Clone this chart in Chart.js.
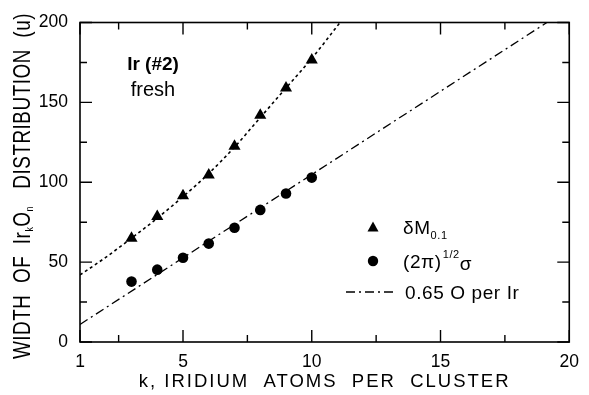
<!DOCTYPE html>
<html>
<head>
<meta charset="utf-8">
<script src="https://cdn.jsdelivr.net/npm/chart.js@4"></script>
<style>
html,body{margin:0;padding:0;background:#fff;}
#wrap{width:589px;height:395px;position:relative;}
</style>
</head>
<body>
<div id="wrap"><canvas id="c" width="589" height="395"></canvas></div>
<script>
// ---- data ----
const kValues = [3, 4, 5, 6, 7, 8, 9, 10];
const deltaM = [65, 78.5, 91.5, 104.5, 122.5, 142, 159, 176.5];
const sigmaWidth = [37.8, 45.3, 52.7, 61.6, 71.5, 82.7, 93, 102.9];
const fitK = [1, 2, 3, 4, 5, 6, 7, 8, 9, 10, 11.1];
const fitDeltaM = [42, 53, 65, 77.5, 91, 105.5, 122, 140.5, 159, 177.5, 200];
const lineK = [1, 19.13];
const lineO = [11, 200];
const xTicks = [1, 5, 10, 15, 20];
const yTicks = [0, 50, 100, 150, 200];
const xMinor = [2.5, 7.5, 12.5, 17.5];
const yMinor = [25, 75, 125, 175];

const pts = (xs, ys) => xs.map((x, i) => ({x: x, y: ys[i]}));
const FONT = '"Liberation Sans", Arial, sans-serif';

const framePlugin = {
  id: 'frame',
  afterDraw(chart) {
    const ctx = chart.ctx;
    const a = chart.chartArea;
    const xs = chart.scales.x, ys = chart.scales.y;
    ctx.save();
    ctx.strokeStyle = '#000';
    ctx.lineWidth = 1.6;
    ctx.strokeRect(a.left, a.top, a.right - a.left, a.bottom - a.top);
    ctx.lineWidth = 1.4;
    ctx.beginPath();
    const tickX = (v, len) => {
      const p = xs.getPixelForValue(v);
      ctx.moveTo(p, a.bottom); ctx.lineTo(p, a.bottom - len);
      ctx.moveTo(p, a.top); ctx.lineTo(p, a.top + len);
    };
    const tickY = (v, len) => {
      const p = ys.getPixelForValue(v);
      ctx.moveTo(a.left, p); ctx.lineTo(a.left + len, p);
      ctx.moveTo(a.right, p); ctx.lineTo(a.right - len, p);
    };
    xTicks.forEach(v => tickX(v, 12));
    xMinor.forEach(v => tickX(v, 7));
    yTicks.forEach(v => tickY(v, 12));
    yMinor.forEach(v => tickY(v, 7));
    ctx.stroke();

    ctx.fillStyle = '#000';
    // x title
    ctx.font = '18.5px ' + FONT;
    ctx.letterSpacing = '2px';
    ctx.textBaseline = 'alphabetic';
    ctx.textAlign = 'center';
    ctx.fillText('k, IRIDIUM  ATOMS  PER  CLUSTER', (a.left + a.right) / 2, 387);

    // y title (rotated, with subscripts, tall glyphs)
    const parts = [
      {t: 'WIDTH  OF  Ir', f: '18px ' + FONT, dy: 0},
      {t: 'k', f: '8.5px ' + FONT, dy: 3},
      {t: 'O', f: '18px ' + FONT, dy: 0},
      {t: 'n', f: '8.5px ' + FONT, dy: 3},
      {t: '   DISTRIBUTION  (u)', f: '18px ' + FONT, dy: 0}
    ];
    ctx.letterSpacing = '0.5px';
    let total = 0;
    parts.forEach(p => { ctx.font = p.f; p.w = ctx.measureText(p.t).width; total += p.w; });
    const targetLen = 346;
    const sx = targetLen / total, sy = 1.3;
    ctx.save();
    ctx.translate(29.5, 186);
    ctx.rotate(-Math.PI / 2);
    ctx.scale(sx, sy);
    ctx.textAlign = 'left';
    let cx = -total / 2;
    parts.forEach(p => { ctx.font = p.f; ctx.fillText(p.t, cx, p.dy); cx += p.w; });
    ctx.restore();
    ctx.letterSpacing = '0px';

    // annotation
    ctx.textAlign = 'center';
    ctx.font = 'bold 19px ' + FONT;
    ctx.fillText('Ir (#2)', 153, 70);
    ctx.font = '20px ' + FONT;
    ctx.fillText('fresh', 153, 96);

    // legend
    const ds = chart.data.datasets;
    const r1 = 227, r2 = 261, r3 = 292;
    ctx.textAlign = 'left';
    ctx.letterSpacing = '0.6px';
    // triangle
    ctx.beginPath();
    const tx = 373;
    ctx.moveTo(tx, r1 - 5.5); ctx.lineTo(tx + 5.5, r1 + 4.5); ctx.lineTo(tx - 5.5, r1 + 4.5); ctx.closePath();
    ctx.fill();
    ctx.font = '19px ' + FONT;
    ctx.fillText('\u03b4M', 403, r1 + 7);
    let w = ctx.measureText('\u03b4M').width;
    ctx.font = '11px ' + FONT;
    ctx.fillText('0.1', 403 + w, r1 + 12);
    // circle
    ctx.beginPath();
    ctx.arc(373, r2, 5.2, 0, Math.PI * 2);
    ctx.fill();
    ctx.font = '19px ' + FONT;
    ctx.fillText('(2\u03c0)', 403, r2 + 7);
    w = ctx.measureText('(2\u03c0)').width;
    ctx.font = '11px ' + FONT;
    ctx.fillText('1/2', 403 + w + 1, r2 - 3);
    const w2 = ctx.measureText('1/2').width;
    ctx.font = '19px ' + FONT;
    ctx.fillText('\u03c3', 403 + w + w2 + 1, r2 + 9);
    // dash-dot line
    ctx.beginPath();
    ctx.lineWidth = 1.3;
    ctx.setLineDash(ds[3].borderDash);
    ctx.moveTo(346, r3); ctx.lineTo(396, r3);
    ctx.stroke();
    ctx.setLineDash([]);
    ctx.fillText('0.65 O per Ir', 405, r3 + 7);
    ctx.restore();
  }
};

new Chart(document.getElementById('c'), {
  type: 'scatter',
  data: {
    datasets: [
      {label: '\u03b4M0.1', data: pts(kValues, deltaM), pointStyle: 'triangle', pointRadius: 7, backgroundColor: '#000', borderColor: '#000', borderWidth: 0, showLine: false},
      {label: '(2\u03c0)^1/2 \u03c3', data: pts(kValues, sigmaWidth), pointStyle: 'circle', pointRadius: 5.3, backgroundColor: '#000', borderColor: '#000', borderWidth: 0, showLine: false},
      {label: 'fit', data: pts(fitK, fitDeltaM), showLine: true, pointRadius: 0, borderColor: '#000', borderWidth: 1.6, borderDash: [3, 3], cubicInterpolationMode: 'monotone'},
      {label: '0.65 O per Ir', data: pts(lineK, lineO), showLine: true, pointRadius: 0, borderColor: '#000', borderWidth: 1.3, borderDash: [9, 4, 2, 4]}
    ]
  },
  options: {
    responsive: false,
    animation: false,
    events: [],
    layout: {padding: {left: 0, right: 12, top: 19, bottom: 0}},
    plugins: {legend: {display: false}, tooltip: {enabled: false}},
    scales: {
      x: {
        type: 'linear', min: 1, max: 20,
        afterBuildTicks: s => { s.ticks = xTicks.map(v => ({value: v})); },
        afterFit: s => { s.height = 53; },
        grid: {display: false, drawTicks: false},
        border: {display: false},
        ticks: {color: '#000', font: {family: FONT, size: 17.5}, padding: 10, maxRotation: 0}
      },
      y: {
        type: 'linear', min: 0, max: 200,
        afterBuildTicks: s => { s.ticks = yTicks.map(v => ({value: v})); },
        afterFit: s => { s.width = 80; },
        grid: {display: false, drawTicks: false},
        border: {display: false},
        ticks: {color: '#000', font: {family: FONT, size: 17.5}, padding: 12}
      }
    }
  },
  plugins: [framePlugin]
});
</script>
</body>
</html>
